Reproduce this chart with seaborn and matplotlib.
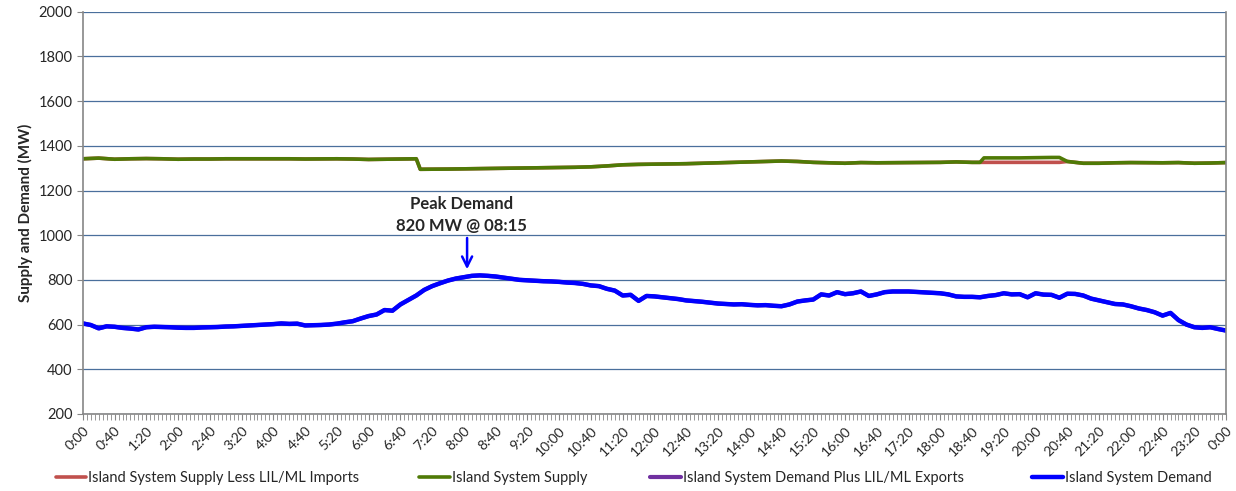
import numpy as np
import pandas as pd
import matplotlib
matplotlib.use("Agg")
import matplotlib.pyplot as plt
from matplotlib.ticker import MultipleLocator
import seaborn as sns

# Island system demand, every 10 minutes from 0:00 to 24:00 (MW)
demand_mw = [
    605, 598, 583, 592, 590, 585, 582, 578, 588, 590, 589, 588,      # 0:00 - 1:50
    586, 585, 585, 587, 588, 589, 591, 592, 594, 596, 598, 600,      # 2:00 - 3:50
    602, 605, 603, 604, 596, 597, 598, 600, 604, 610, 615, 627,      # 4:00 - 5:50
    638, 645, 665, 662, 690, 710, 730, 755, 772, 785, 797, 806,      # 6:00 - 7:50
    812, 818, 820, 818, 815, 810, 805, 800, 798, 796, 794, 793,      # 8:00 - 9:50
    791, 788, 786, 782, 775, 772, 760, 752, 730, 733, 706, 728,      # 10:00 - 11:50
    726, 722, 718, 714, 708, 705, 702, 698, 694, 692, 690, 691,      # 12:00 - 13:50
    688, 686, 687, 684, 682, 690, 703, 708, 712, 735, 730, 745,      # 14:00 - 15:50
    736, 740, 748, 728, 735, 745, 748, 748, 748, 746, 744, 742,      # 16:00 - 17:50
    740, 735, 726, 724, 724, 722, 728, 732, 740, 735, 736, 722,      # 18:00 - 19:50
    740, 734, 733, 720, 738, 737, 730, 716, 708, 700, 692, 690,      # 20:00 - 21:50
    682, 672, 665, 655, 640, 652, 620, 600, 588, 585, 588, 580,      # 22:00 - 23:50
    573,                                                             # 24:00
]
demand_times = np.arange(0, 1441, 10)

# Island system supply (MW)
supply_times = [
    "0:00", "0:20", "0:40", "1:00", "1:20", "1:40", "2:00", "2:20", "2:40",
    "3:00", "3:40", "4:20", "4:40", "5:20", "5:40", "6:00", "6:40", "7:00",
    "7:05", "7:40", "8:20", "9:00", "9:40", "10:20", "10:40", "11:00",
    "11:20", "11:40", "12:00", "12:40", "13:20", "14:00", "14:20", "14:40",
    "15:00", "15:20", "15:40", "16:00", "16:20", "16:40", "17:20", "18:00",
    "18:20", "18:40", "18:50", "18:55", "19:40", "20:20", "20:30", "20:40",
    "21:00", "21:20", "21:40", "22:00", "22:40", "23:00", "23:20", "23:40",
    "24:00",
]
supply_mw = [
    1342, 1345, 1340, 1342, 1343, 1342, 1340, 1341, 1341,
    1342, 1342, 1342, 1341, 1342, 1341, 1339, 1341, 1342,
    1295, 1296, 1298, 1300, 1302, 1304, 1306, 1310,
    1315, 1317, 1318, 1320, 1324, 1328, 1330, 1332,
    1330, 1326, 1324, 1322, 1325, 1324, 1325, 1326,
    1328, 1326, 1326, 1346, 1346, 1348, 1348, 1330,
    1322, 1322, 1324, 1325, 1324, 1325, 1322, 1323,
    1325,
]
supply_less_imports_mw = [
    1342, 1345, 1340, 1342, 1343, 1342, 1340, 1341, 1341,
    1342, 1342, 1342, 1341, 1342, 1341, 1339, 1341, 1342,
    1295, 1296, 1298, 1300, 1302, 1304, 1306, 1310,
    1315, 1317, 1318, 1320, 1324, 1328, 1330, 1332,
    1330, 1326, 1324, 1322, 1325, 1324, 1325, 1326,
    1328, 1326, 1326, 1326, 1326, 1326, 1326, 1330,
    1322, 1322, 1324, 1325, 1324, 1325, 1322, 1323,
    1325,
]


def to_minutes(s):
    h, m = s.split(":")
    return int(h) * 60 + int(m)


supply_x = [to_minutes(t) for t in supply_times]

sns.set_style("white")
plt.rcParams["font.family"] = ["Lato", "DejaVu Sans"]

fig = plt.figure(figsize=(12.36, 4.91), dpi=100)
ax = fig.add_axes([0.067, 0.157, 0.925, 0.819])

sns.lineplot(x=supply_x, y=supply_less_imports_mw, ax=ax, color="#c0504d", lw=2.6,
             label="Island System Supply Less LIL/ML Imports")
sns.lineplot(x=supply_x, y=supply_mw, ax=ax, color="#4f7a06", lw=2.6,
             label="Island System Supply")
sns.lineplot(x=demand_times, y=demand_mw, ax=ax, color="#7030a0", lw=3,
             label="Island System Demand Plus LIL/ML Exports")
sns.lineplot(x=demand_times, y=demand_mw, ax=ax, color="#0000ff", lw=3.2,
             label="Island System Demand")

ax.set_xlim(0, 1440)
ax.set_ylim(200, 2000)
ax.yaxis.set_major_locator(MultipleLocator(200))
ax.grid(axis="y", color="#4a6f9c", lw=0.9)
ax.set_axisbelow(True)

xt = np.arange(0, 1441, 40)
ax.set_xticks(xt)
ax.set_xticklabels([f"{(m // 60) % 24}:{m % 60:02d}" for m in xt],
                   rotation=45, ha="right", rotation_mode="anchor", fontsize=10)
ax.set_xticks(np.arange(0, 1441, 5), minor=True)
ax.tick_params(axis="x", which="both", length=4, color="#868686", bottom=True)
ax.tick_params(axis="y", length=4, color="#868686", left=True, labelsize=10.5)

for side in ["left", "right", "bottom"]:
    ax.spines[side].set_color("#868686")
    ax.spines[side].set_linewidth(1.2)
ax.spines["top"].set_visible(False)

ax.set_xlabel("")
ax.set_ylabel("Supply and Demand (MW)", fontsize=11, fontweight="bold")

ax.text(477, 1005, "Peak Demand\n820 MW @ 08:15", ha="center", va="bottom",
        fontsize=12, fontweight="bold", linespacing=1.5)
ax.annotate("", xy=(484, 835), xytext=(484, 1000),
            arrowprops=dict(arrowstyle="->", color="#0000ff", lw=1.8,
                            mutation_scale=18))

# one legend entry per slot, placed like the original's bottom legend
handles, labels = ax.get_legend_handles_labels()
ax.legend_.remove()
for h, l, x0 in zip(handles, labels, [0.045, 0.339, 0.526, 0.835]):
    fig.legend([h], [l], loc="center left", bbox_to_anchor=(x0, 0.027),
               frameon=False, fontsize=10.5, handlelength=2.1,
               handletextpad=0.15, borderpad=0, borderaxespad=0)

fig.savefig("out.png", dpi=100)
